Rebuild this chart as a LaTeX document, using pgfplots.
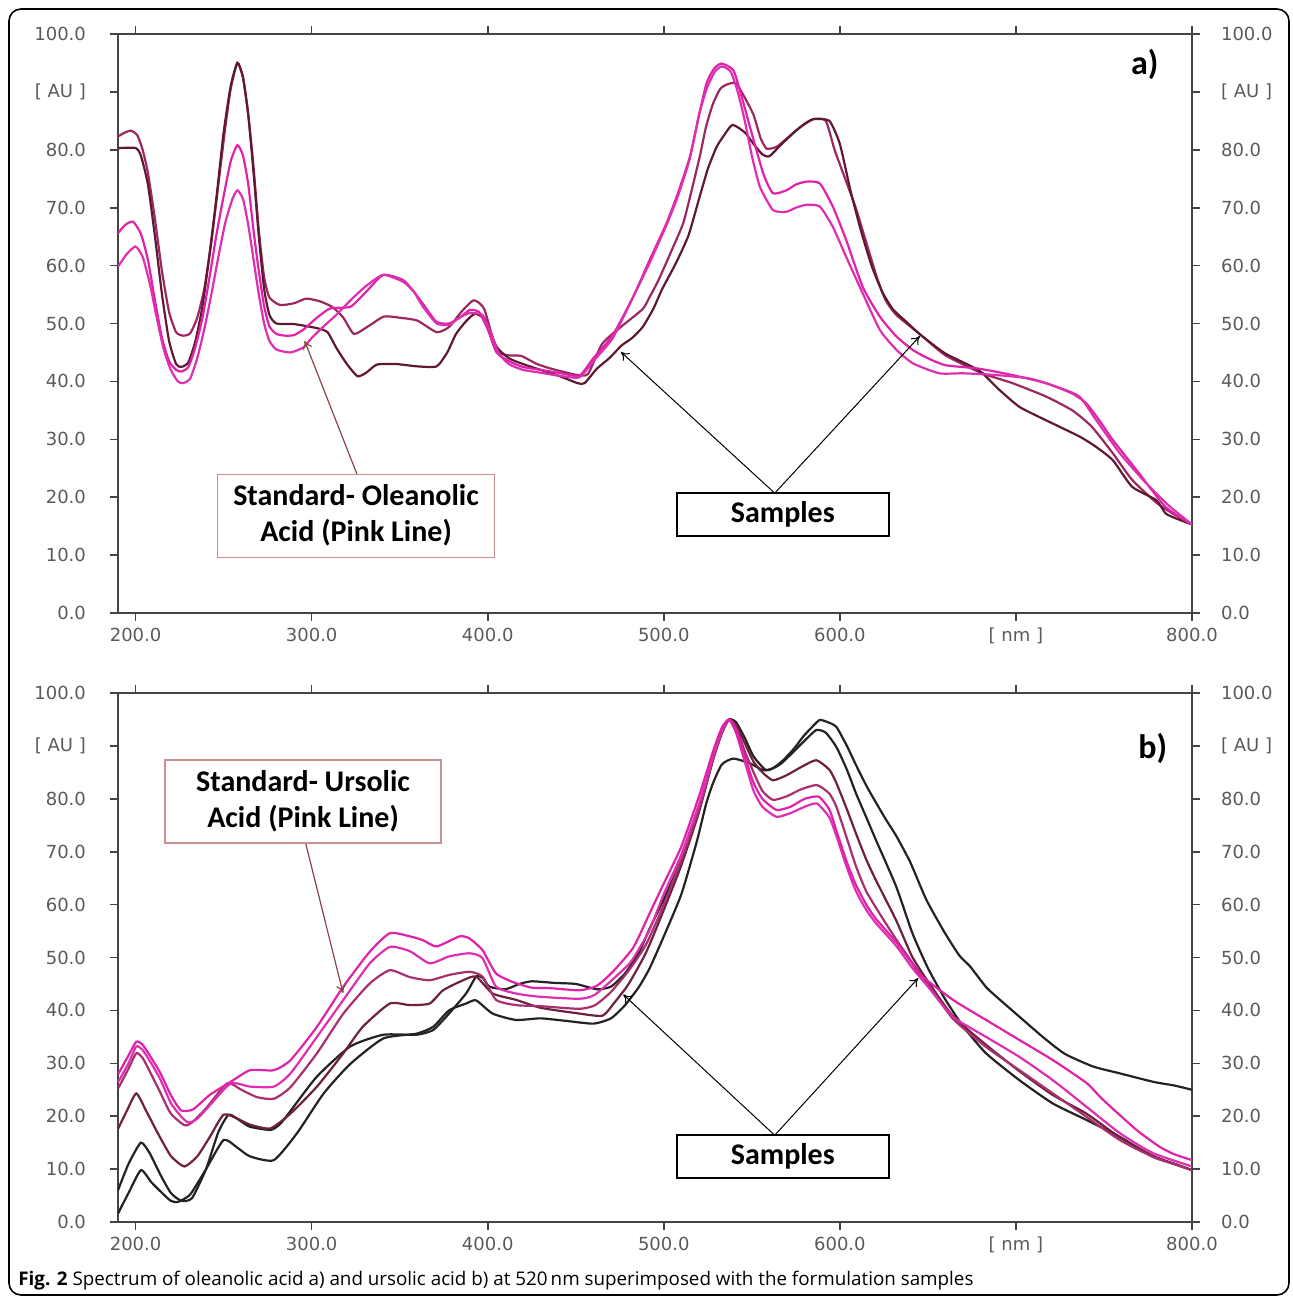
\documentclass[border=0pt]{standalone}
\usepackage{fontspec}
\usepackage{pgfplots}
\pgfplotsset{compat=1.18}
\usetikzlibrary{arrows.meta}
\newfontfamily\tickfont{DejaVu Sans}
\newfontfamily\boxfont{Carlito}
\newfontfamily\capfont{Open Sans}
\definecolor{pinkA}{HTML}{E022AA}
\definecolor{pinkB}{HTML}{DD2FB0}
\definecolor{maroonM}{HTML}{9B285F}
\definecolor{maroonD}{HTML}{5F1932}
\definecolor{maroonB}{HTML}{A8306E}
\definecolor{maroonBD}{HTML}{6E2040}
\definecolor{blackC}{HTML}{262222}
\definecolor{boxbrown}{HTML}{C89090}
\definecolor{arrowbrown}{HTML}{8B4545}
\definecolor{tickgray}{HTML}{5A5A5A}
\definecolor{axisgray}{HTML}{444444}
\pgfplotsset{
  spec/.style={
    scale only axis, width=537pt,
    xmin=190, xmax=800, ymin=0, ymax=100,
    xtick={200,300,400,500,600,700,800},
    xticklabels={200.0,300.0,400.0,500.0,600.0,{[ nm ]},800.0},
    ytick={0,10,20,30,40,50,60,70,80,90,100},
    yticklabels={0.0,10.0,20.0,30.0,40.0,50.0,60.0,70.0,80.0,{[ AU ]},100.0},
    tick align=outside, tick pos=both,
    xticklabel pos=lower, yticklabel pos=left,
    major tick length=4pt,
    axis line style={line width=1pt, draw=axisgray},
    tick style={line width=0.8pt, draw=axisgray},
    ticklabel style={font=\tickfont\fontsize{9}{10}\selectfont, text=tickgray},
    yticklabel style={xshift=-8.5pt},
    clip=true,
  },
  rightlab/.style={
    scale only axis, width=537pt,
    xmin=190, xmax=800, ymin=0, ymax=100,
    hide x axis, axis y line*=right,
    y axis line style={draw=none},
    ytick style={draw=none},
    ytick={0,10,20,30,40,50,60,70,80,90,100},
    yticklabels={0.0,10.0,20.0,30.0,40.0,50.0,60.0,70.0,80.0,{[ AU ]},100.0},
    yticklabel style={font=\tickfont\fontsize{9}{10}\selectfont, text=tickgray, xshift=11pt},
  },
  spl/.style={line width=1.1pt, no marks, smooth, tension=0.35},
}
\newcommand{\boxtext}{\boxfont\bfseries\fontsize{15}{18}\selectfont}
\begin{document}
\begin{tikzpicture}
\useasboundingbox (0,0) rectangle (646.5pt,-648.5pt);
\draw[line width=0.8pt, rounded corners=6pt] (4.5pt,-4.5pt) rectangle (644.5pt,-647.5pt);

% ---------------- panel a ----------------
\begin{axis}[spec, height=289.5pt, at={(59pt,-17pt)}, anchor=north west]
% M1 medium maroon
\addplot[spl, maroonM] coordinates {(190,82.3)(194,83)(197.5,83.3)(201,82.5)(204,80)(207,76)(211,68)(215,59)(219,52)(223,48.5)(227,47.9)(231,48.3)(235,51)(239,56)(243,64)(247,74)(251,84)(254,90.5)(257.8,95)(261,92.5)(264,86)(267,77)(270,66)(273,58)(276,54.5)(282,53.2)(290,53.5)(297,54.3)(305,53.8)(312,52.8)(318,51)(324,48.2)(332,49.5)(341,51.2)(350,51)(360,50.5)(371,48.5)(378,49.4)(385,52)(392,54)(398,52.5)(405,45.4)(412,44.5)(419,44.4)(428,43)(436,42.2)(445,41.5)(451,41.1)(457,41.3)(465,46.5)(476,49.5)(488,52.5)(492,54.6)(497,57.5)(505,63)(511,67.3)(515,72)(520.4,78.8)(524,84)(528,88)(532,90.5)(536,91.3)(541,91.5)(546,89)(551,86)(555,82)(558.4,80.2)(564,80.5)(570,82)(577,83.8)(585,85.3)(592,85)(597,80)(603,75)(609,70)(615,64)(621,58)(626,54)(632,51.5)(640,49.5)(648,47.5)(660,44.5)(680,41.5)(698,39.7)(717,37.4)(732,35)(743,32.2)(755,27.6)(766,23)(780,19)(790,17)(800,15.3)};
% M2 dark maroon
\addplot[spl, maroonD] coordinates {(190,80.3)(200,80.3)(203,79)(207,74)(211,65)(215,55)(219,47)(223,43)(226,42.5)(230,43.3)(234,47)(238,53)(242,62)(246,72)(250,83)(254,91)(257.8,95)(261,92.5)(264,86)(267,76)(270,65)(273,56)(276,51.5)(280,50)(290,49.9)(303,49.2)(309,48.5)(314,45.8)(320,43)(326,40.9)(331,41.5)(337,42.9)(348,43)(360,42.6)(371,42.6)(377,45)(382,48.2)(388,50.5)(393,51.7)(399,50.5)(405,46)(412,44)(420,43)(430,42)(440,41)(451,39.7)(455,39.7)(462,42.2)(469,44)(476,46.2)(482,47.5)(488,49.4)(494,52.5)(499,55.9)(507,60.5)(514,65.2)(520,71.5)(525,76.7)(530,80.5)(534,82.4)(539,84.3)(546,83)(551,81)(556,79.2)(560,78.9)(567,81)(574,83)(580,84.5)(585,85.3)(594,85)(600,81)(606,73)(612,66)(618,60)(624,55.5)(630,52.5)(637,50.5)(646,48)(660,44.8)(679,41.9)(690,38.7)(702,35.6)(717,33.3)(736,30.5)(745,28.8)(755,26.4)(766,21.8)(779.7,19.5)(785,17.2)(792,16.2)(800,15.3)};
% P1 pink
\addplot[spl, pinkA] coordinates {(190,65.6)(194,67)(198.5,67.6)(203,65.5)(207,61)(211,54)(215,47.5)(219,43.5)(223,42)(226,41.7)(230,42.5)(234,46)(238,51)(242,58)(246,65.5)(250,72)(254,78)(257.8,80.8)(261,79)(264,74)(267,66)(270,59)(273,53)(276,49.5)(280,48.2)(285,47.9)(290,48)(295.5,49)(303,51)(310.5,52.6)(322,52.9)(331,55.5)(340.7,58.4)(352,57.5)(358,55.5)(363,53.5)(370.8,50.3)(378,50)(384,51)(389.6,52.3)(395,52)(400,49)(405,45)(412,43.5)(420,42.5)(430,42)(440,41.5)(452,41)(460,44)(471,48)(482.6,54.6)(492,61)(501.5,67.3)(508,72.5)(514.8,78.8)(520,86)(524.3,91.5)(528.5,94)(532.8,94.9)(539.4,93.8)(543.2,90.3)(548.9,84)(556.5,75.9)(562,72.5)(569.6,73)(575,74)(581,74.5)(588.6,74.2)(596,70.2)(603.6,64.4)(613,56.3)(622.7,51.2)(632,47.8)(641.6,45.4)(650,44)(660,42.8)(679,42.2)(698,41.1)(717,39.7)(732,37.9)(740,36.2)(748,33)(755,29.9)(770,24.1)(785,18.3)(800,15.3)};
% P2 pink
\addplot[spl, pinkB] coordinates {(190,59.8)(195,62)(200,63.3)(204,61.5)(208,57)(212,51)(216,45.5)(220,42)(224,40)(227,39.7)(231,40.5)(235,44)(239,49)(243,55)(247,61.5)(251,67.5)(255,71.5)(257.8,73)(261,71.5)(264,67)(267,61)(270,55)(273,50)(276,47)(280,45.5)(288,45)(295.5,45.9)(300,47.5)(306.8,49.5)(314,51.5)(322,54)(331,56.5)(340.7,58.4)(352,57.2)(358,55.5)(363,53)(371,50)(378,49.8)(384,51)(389.6,51.8)(397,51.5)(401,49)(406,45)(412,43)(420,42)(430,41.5)(440,41)(452,40.7)(460,43.5)(471,47.5)(482.6,54.6)(492,60.5)(501.5,67)(508,72)(514.8,78.5)(520,86)(524.3,90.5)(529,93.5)(533,94.4)(538,93.5)(542,90)(546,85)(550,79)(554.6,73.6)(562,69.6)(569.6,69.3)(575,70)(581,70.5)(588.6,70.2)(596,66.7)(603.6,61.5)(613,55.2)(622.7,48.9)(632,45.5)(641.6,43.1)(656.5,41.4)(670,41.4)(689,41.1)(707.8,40.5)(722.8,39.1)(736,37.4)(745.6,33.3)(759,27.6)(774,22.4)(787,18.5)(800,15.3)};
% annotations
\draw[arrowbrown, line width=0.6pt, -{To[length=4pt,width=5pt]}] (axis cs:325.7,24) -- (axis cs:296,47);
\node[draw=boxbrown, line width=0.6pt, fill=white, minimum width=138.5pt, minimum height=41.5pt, align=center, inner sep=1pt, font=\boxtext] at (axis cs:325.2,16.8) {Standard- Oleanolic\\Acid (Pink Line)};
\draw[black, line width=0.5pt, -{To[length=4pt,width=5pt]}] (axis cs:563,20.7) -- (axis cs:475.6,45.1);
\draw[black, line width=0.5pt, -{To[length=4pt,width=5pt]}] (axis cs:563,20.7) -- (axis cs:645.4,47.8);
\node[draw=black, line width=1pt, fill=white, minimum width=106pt, minimum height=21.5pt, inner sep=1pt, font=\boxtext] at (axis cs:567.6,17) {Samples};
\node[font=\boxfont\bfseries\fontsize{17}{18}\selectfont] at (axis cs:773.2,94.8) {a)};
\end{axis}
\begin{axis}[rightlab, height=289.5pt, at={(59pt,-17pt)}, anchor=north west]
\end{axis}

% ---------------- panel b ----------------
\begin{axis}[spec, height=264.5pt, at={(59pt,-346.5pt)}, anchor=north west]
% B6 black outlier
\addplot[spl, blackC] coordinates {(190,1.6)(196,5.5)(203,9.8)(209,7.5)(215,5.5)(220,4)(224,3.8)(231,5.2)(240,10)(250,15.5)(258,14)(265,12.4)(278.5,11.7)(291.7,16.8)(306.8,24.3)(322,29.9)(340.7,34.7)(359.5,35.6)(369,36.9)(378,40)(387.7,41.3)(393.4,41.9)(402.8,39.4)(416,38.2)(430,38.5)(445,38)(460,37.5)(470,38.5)(478,41)(486,44.5)(492,48)(500,54)(510,62)(518.8,72)(524,79)(528,83)(533,86.5)(539.5,87.6)(549,86.7)(556.4,85.4)(562,85.8)(567.8,87.3)(574,89.5)(579,91.7)(584,93.5)(588.5,94.9)(593,94.5)(598,93.6)(604,90)(609,86.5)(615.5,82.2)(625.4,76.5)(632,73)(640,68)(649,61)(659,55)(667.8,50.4)(674,48.3)(682.8,44.5)(688.9,42.6)(702,38.8)(715.2,35)(727.7,31.8)(743.8,29.4)(759,28.1)(778,26.5)(790,25.8)(800,25)};
% B5 black
\addplot[spl, blackC] coordinates {(190,6)(196,11)(203,15)(208,13)(214,9)(220,5.5)(226,4)(232,4.5)(240,10)(247,17)(253,20.3)(260,19)(265,18)(276.6,17.4)(282,18.5)(288,21)(303,27.5)(322,33.2)(340.7,35.4)(359.5,35.4)(369,36.3)(378,39.4)(387.7,43.2)(393.4,46.4)(397,46.2)(401,44.5)(410,44)(418,45)(425,45.5)(438,45.2)(450,45)(462,44)(470,44.5)(478,47)(486,51)(492,55.5)(500,61)(510,68.5)(520,78)(528,87.5)(533,92.5)(537,95)(541,94.5)(546,91.5)(551,88)(558.3,85.4)(566,86.5)(574,89)(580,91)(586.6,93)(592,92.5)(598,89.8)(604,85.5)(609.2,81)(615,76.5)(620.5,72.2)(632,63.4)(641.2,54.6)(650,48)(660,42)(670,37)(683,31.9)(702,26.8)(721,22.4)(740,19.3)(759,16.1)(778,12.3)(790,11)(800,9.8)};
% B4 dark maroon
\addplot[spl, maroonBD] coordinates {(190,17.6)(195,21)(200.4,24.3)(206,21)(212.6,16.8)(220,12.5)(227.7,10.5)(235,12.4)(242,16)(250,20.3)(258,19.5)(265,18.4)(276.6,17.7)(288,20.5)(303,25.6)(318,31.9)(329,36.9)(344.4,41.3)(355.7,41)(367,41.3)(374.6,43.8)(386,45.7)(393.4,46.4)(402.8,43.2)(416,42)(430,40.5)(450,39.5)(465,39)(472,41.5)(480,45)(490,51)(500,59)(510,67.5)(520,77.5)(528,87.5)(533,92.5)(537,95)(541,94)(546,90.5)(551,87)(556,85)(562,83.5)(570,84.5)(578,86)(586.6,87.3)(594,85.5)(598,83)(604,78)(609.2,73.4)(615,68.5)(620.5,64.6)(632,57)(641,50.2)(650,45.5)(664,39)(683,33.5)(702,28.5)(721,24)(740,20.5)(759,16)(778,12.5)(790,11)(800,9.8)};
% B3 maroon pink
\addplot[spl, maroonB] coordinates {(190,25.2)(196,29)(200.4,31.9)(204,31)(208,28.5)(214,24.5)(220,20.5)(227.7,18.3)(232,18.8)(240,21.5)(252,26.2)(260,25)(269,23.6)(278.5,23.3)(288,25.5)(303,31.9)(318,39.4)(333,45.1)(344.4,47.6)(355.7,46.3)(367,45.7)(378,46.7)(389.6,47.3)(397,46.4)(404.7,42)(416,41)(430,40.8)(452,40.3)(461,41)(470,43.5)(480,47.5)(490,52.5)(500,60)(510,68.5)(520,78)(528,87.5)(533,92.5)(537,95)(541,93.5)(546,89)(551,85)(556,81.5)(562,79.8)(570,80.5)(578,81.8)(587,82.6)(594,81)(598,78.5)(604,72.5)(609.2,67.2)(615,62.5)(622.4,58.4)(632,53.4)(641.2,49)(650,45)(664,38.5)(683,33.1)(702,28.7)(721,24.3)(740,19.9)(759,15.5)(778,12.3)(800,9.8)};
% B2 pink
\addplot[spl, pinkB] coordinates {(190,26.4)(196,30)(200.4,33.2)(204,32.5)(208,30.5)(214,27)(220,22.5)(225.7,20)(230,18.8)(235,19.5)(242,22)(254,26.2)(265,25.6)(278.5,25.6)(288,28.1)(303,35)(318,42)(333,48.9)(344.4,52)(355.7,51.2)(367,48.9)(378,50.2)(389.6,50.8)(397,49.9)(404.7,44.5)(416,43.2)(429,42.6)(452,42.2)(461,43)(475.7,47.3)(482,49.5)(491.6,55)(500,62)(510,69.5)(520,79)(528,88)(533,93)(537,95)(541,92.5)(546,87)(551,81.5)(556,78.5)(564,76.6)(572,77.3)(580,78.5)(587,79.1)(594,76.5)(598,73)(604,67)(609.2,62.5)(615,59)(620.5,56.5)(632,52.2)(641.2,48)(650,44.5)(664.2,38.8)(683,35)(702,31.2)(721,26.8)(740,21.8)(759,16.8)(778,13)(800,10.5)};
% B1 pink
\addplot[spl, pinkA] coordinates {(190,27.9)(196,31.5)(200.4,34.1)(204,33.5)(208,31.5)(214,28.2)(220,24)(225.8,21.1)(232.7,21.3)(242,24)(254,26.5)(265,28.7)(278.5,28.7)(288,30.6)(303,36.9)(318,44.5)(333,51.1)(344.4,54.6)(355.7,54)(363,53.3)(371,52.1)(384,54)(389.6,53.6)(397,51.4)(404.7,47)(414,45.4)(425,44.3)(436,44.2)(452,43.8)(461.7,44.6)(471,47.3)(482.7,51.9)(491.6,58.1)(500,64)(510,71)(520,80.5)(528,89)(533,93.5)(537,95)(541,93)(546,88)(551,83)(556,80)(564,77.9)(572,78.5)(580,80)(588,80.4)(594,78)(598,74)(604,68)(609,63.8)(615,60)(620.5,57.3)(632,52.9)(641.2,48.8)(645.4,46.8)(664.2,42)(683,38.2)(702,34.4)(721,30.6)(740,26.3)(749.5,23.1)(768.5,17.4)(781.7,14.2)(790,12.8)(800,11.7)};
% annotations
\draw[arrowbrown, line width=0.6pt, -{To[length=4pt,width=5pt]}] (axis cs:296.6,71.6) -- (axis cs:317.8,43.3);
\node[draw=boxbrown, line width=0.6pt, fill=white, minimum width=138pt, minimum height=41.5pt, align=center, inner sep=1pt, font=\boxtext] at (axis cs:295.1,79.5) {Standard- Ursolic\\Acid (Pink Line)};
\draw[black, line width=0.5pt, -{To[length=4pt,width=5pt]}] (axis cs:563,16.4) -- (axis cs:477,43);
\draw[black, line width=0.5pt, -{To[length=4pt,width=5pt]}] (axis cs:563,16.4) -- (axis cs:644.5,46.1);
\node[draw=black, line width=1pt, fill=white, minimum width=106pt, minimum height=21.5pt, inner sep=1pt, font=\boxtext] at (axis cs:567.6,12.4) {Samples};
\node[font=\boxfont\bfseries\fontsize{17}{18}\selectfont] at (axis cs:777.7,89.6) {b)};
\end{axis}
\begin{axis}[rightlab, height=264.5pt, at={(59pt,-346.5pt)}, anchor=north west]
\end{axis}

% caption
\node[anchor=base west, inner sep=0pt, font=\capfont\fontsize{9.4}{11}\selectfont] at (9pt,-642.5pt) {\textbf{Fig. 2} Spectrum of oleanolic acid a) and ursolic acid b) at 520\,nm superimposed with the formulation samples};
\end{tikzpicture}
\end{document}
